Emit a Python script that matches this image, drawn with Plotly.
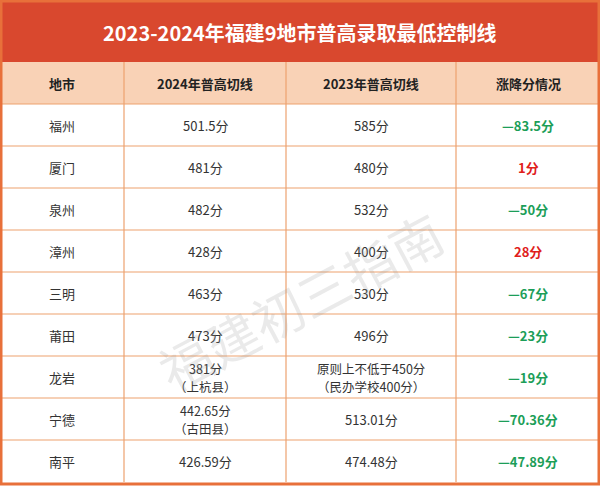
import plotly.graph_objects as go

title = "2023-2024年福建9地市普高录取最低控制线"
headers = ["地市", "2024年普高切线", "2023年普高切线", "涨降分情况"]
cities = ["福州", "厦门", "泉州", "漳州", "三明", "莆田", "龙岩", "宁德", "南平"]
line_2024 = ["501.5分", "481分", "482分", "428分", "463分", "473分",
             "381分<br>（上杭县）", "442.65分<br>（古田县）", "426.59分"]
line_2023 = ["585分", "480分", "532分", "400分", "530分", "496分",
             "原则上不低于450分<br>（民办学校400分）", "513.01分", "474.48分"]
change = ["—83.5分", "1分", "—50分", "28分", "—67分", "—23分", "—19分", "—70.36分", "—47.89分"]
rising = [False, True, False, True, False, False, False, False, False]

GREEN = "#1c9e58"
RED = "#e0201b"
TEXT = "#333333"
LINE = "#eda26f"
FONT = "Noto Sans CJK SC"

W, H = 600, 486
TITLE_H = 62
HEAD_H = 42
ROW_H = 42
col_edges = [0, 124, 286, 456, 600]
col_mid = [(a + b) / 2 for a, b in zip(col_edges[:-1], col_edges[1:])]

fig = go.Figure()
shapes = []
# title bar and header band
shapes.append(dict(type="rect", x0=0, x1=W, y0=0, y1=TITLE_H,
                   fillcolor="#d9482e", line_width=0))
shapes.append(dict(type="rect", x0=0, x1=W, y0=TITLE_H, y1=TITLE_H + HEAD_H,
                   fillcolor="#f9d2b6", line_width=0))
table_bottom = TITLE_H + HEAD_H + ROW_H * len(cities)
for i in range(len(cities)):
    y = TITLE_H + HEAD_H + ROW_H * i
    shapes.append(dict(type="line", x0=0, x1=W, y0=y, y1=y, line=dict(color=LINE, width=1.2)))
for x in col_edges[1:-1]:
    shapes.append(dict(type="line", x0=x, x1=x, y0=TITLE_H, y1=table_bottom,
                       line=dict(color=LINE, width=1.2)))
shapes.append(dict(type="rect", x0=1, x1=W - 1, y0=1, y1=H - 2,
                   line=dict(color="#e8703a", width=3)))

anns = [dict(x=W / 2, y=TITLE_H / 2 + 1, text=f"<b>{title}</b>",
             font=dict(size=20, color="white", family=FONT))]
for x, h in zip(col_mid, headers):
    anns.append(dict(x=x, y=TITLE_H + HEAD_H / 2, text=f"<b>{h}</b>",
                     font=dict(size=13, color="#222222", family=FONT)))
for i in range(len(cities)):
    y = TITLE_H + HEAD_H + ROW_H * i + ROW_H / 2
    vals = [cities[i], line_2024[i], line_2023[i], f"<b>{change[i]}</b>"]
    colors = [TEXT, TEXT, TEXT, RED if rising[i] else GREEN]
    for x, v, c in zip(col_mid, vals, colors):
        parts = v.split("<br>")
        if len(parts) == 1:
            anns.append(dict(x=x, y=y, text=v, font=dict(size=13, color=c, family=FONT)))
        else:
            for k, p in enumerate(parts):
                anns.append(dict(x=x, y=y - 9 + 18 * k, text=p,
                                 font=dict(size=12.5, color=c, family=FONT)))
anns.append(dict(x=300, y=300, text="福建初三指南", textangle=-28,
                 font=dict(size=52, color="rgba(150,150,150,0.2)", family=FONT)))
for a in anns:
    a.update(showarrow=False, xref="x", yref="y")

fig.update_layout(width=W, height=H, margin=dict(l=0, r=0, t=0, b=0),
                  paper_bgcolor="white", plot_bgcolor="white",
                  shapes=shapes, annotations=anns,
                  xaxis=dict(range=[0, W], visible=False, fixedrange=True),
                  yaxis=dict(range=[H, 0], visible=False, fixedrange=True),
                  showlegend=False)
fig.write_html("out.html", config={"displayModeBar": False},
               post_script="document.body.style.margin='0';")
